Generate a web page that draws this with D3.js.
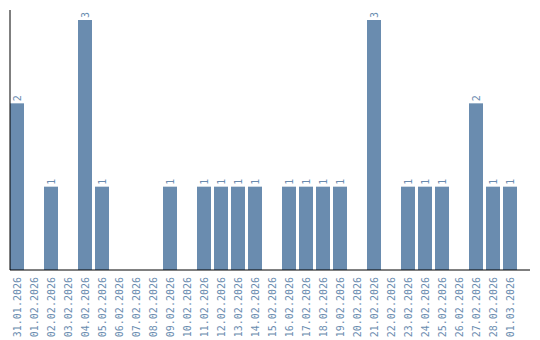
<!DOCTYPE html>
<html><head><meta charset="utf-8">
<script src="https://cdn.jsdelivr.net/npm/d3@7"></script>
<style>body{margin:0;background:#fff}svg{display:block}</style>
</head><body>
<script>
const categories = ["31.01.2026","01.02.2026","02.02.2026","03.02.2026","04.02.2026","05.02.2026","06.02.2026","07.02.2026","08.02.2026","09.02.2026","10.02.2026","11.02.2026","12.02.2026","13.02.2026","14.02.2026","15.02.2026","16.02.2026","17.02.2026","18.02.2026","19.02.2026","20.02.2026","21.02.2026","22.02.2026","23.02.2026","24.02.2026","25.02.2026","26.02.2026","27.02.2026","28.02.2026","01.03.2026"];
const values = [2,0,1,0,3,1,0,0,0,1,0,1,1,1,1,0,1,1,1,1,0,3,0,1,1,1,0,2,1,1];

const W = 540, H = 340;
const color = "#6a8caf";
const font = "DejaVu Sans Mono, monospace";
const svg = d3.select("body").append("svg").attr("width", W).attr("height", H);

const x = d3.scaleBand().domain(categories).range([10, 517]).paddingInner(3/17).paddingOuter(0);
const y = d3.scaleLinear().domain([0, 3.12]).range([270, 10]);

const data = categories.map((c, i) => ({c, v: values[i]}));

svg.selectAll("rect.bar").data(data.filter(d => d.v > 0)).join("rect")
  .attr("class", "bar")
  .attr("x", d => x(d.c)).attr("width", x.bandwidth())
  .attr("y", d => y(d.v)).attr("height", d => y(0) - y(d.v))
  .attr("fill", color);

svg.selectAll("text.val").data(data.filter(d => d.v > 0)).join("text")
  .attr("class", "val")
  .attr("transform", d => `translate(${x(d.c) + x.bandwidth()/2},${y(d.v) - 2}) rotate(-90)`)
  .attr("dy", "0.35em")
  .attr("text-anchor", "start")
  .attr("font-family", font)
  .attr("font-size", 10)
  .attr("fill", color)
  .text(d => d.v);

// axes
const yAxis = svg.append("g").attr("transform", "translate(10,0)")
  .call(d3.axisLeft(y).tickValues([]).tickSizeOuter(0));
yAxis.select(".domain").attr("stroke", "#000").attr("d", `M0,${y.range()[1]}V${y.range()[0]}`);

const xAxis = svg.append("g").attr("transform", "translate(0,270)")
  .call(d3.axisBottom(x).tickSize(0).tickSizeOuter(0));
xAxis.select(".domain").attr("stroke", "#000").attr("d", "M10,0H530");
xAxis.selectAll(".tick text")
  .attr("transform", "translate(0,7) rotate(-90)")
  .attr("x", 0).attr("y", 0).attr("dy", "0.35em")
  .attr("text-anchor", "end")
  .attr("font-family", font)
  .attr("font-size", 10)
  .attr("fill", color);
</script>
</body></html>
